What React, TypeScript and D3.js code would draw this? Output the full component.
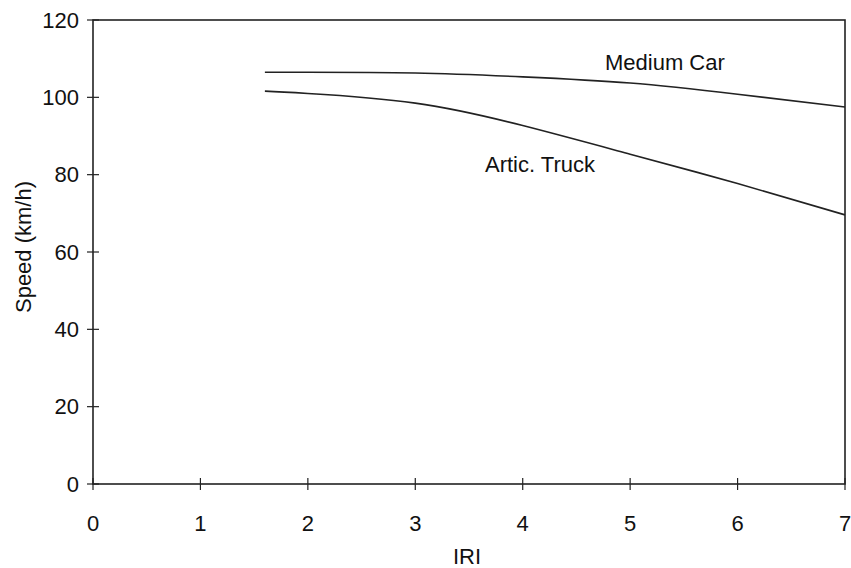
import React from "react";
import * as d3 from "d3";

const iri = [1.6, 2, 3, 4, 5, 6, 7];
const mediumCar = [106.5, 106.5, 106.3, 105.3, 103.7, 100.8, 97.5];
const articTruck = [101.6, 101.0, 98.5, 92.7, 85.3, 77.7, 69.6];
const xTicks = [0, 1, 2, 3, 4, 5, 6, 7];
const yTicks = [0, 20, 40, 60, 80, 100, 120];

const W = 851, H = 568;
const left = 93, right = 845, top = 20, bottom = 484;

export default function App() {
  const x = d3.scaleLinear().domain([0, 7]).range([left, right]);
  const y = d3.scaleLinear().domain([0, 120]).range([bottom, top]);
  const line = d3.line<number>().x((_, i) => x(iri[i])).y((d) => y(d)).curve(d3.curveNatural);
  const font = "Liberation Sans, Arial, sans-serif";
  const fs = 22;
  return (
    <svg width={W} height={H} style={{ position: "absolute", left: 0, top: 0, background: "#fff" }} fontFamily={font}>
      <rect x={left} y={top} width={right - left} height={bottom - top} fill="none" stroke="#222" strokeWidth={1.6} />
      {yTicks.map((t) => (
        <g key={"y" + t}>
          <line x1={left - 6} x2={left + 6} y1={y(t)} y2={y(t)} stroke="#222" strokeWidth={1.2} />
          <text x={79} y={y(t)} dy="0.35em" textAnchor="end" fontSize={fs} fill="#111">{t}</text>
        </g>
      ))}
      {xTicks.map((t) => (
        <g key={"x" + t}>
          <line x1={x(t)} x2={x(t)} y1={bottom - 6} y2={bottom + 6} stroke="#222" strokeWidth={1.2} />
          <text x={x(t)} y={523} dy="0.35em" textAnchor="middle" fontSize={fs} fill="#111">{t}</text>
        </g>
      ))}
      <path d={line(mediumCar) || ""} fill="none" stroke="#222" strokeWidth={1.6} />
      <path d={line(articTruck) || ""} fill="none" stroke="#222" strokeWidth={1.6} />
      <text x={605} y={70} fontSize={fs} fill="#111">Medium Car</text>
      <text x={485} y={172} fontSize={fs} fill="#111">Artic. Truck</text>
      <text x={467} y={556} dy="0.35em" textAnchor="middle" fontSize={fs} fill="#111">IRI</text>
      <text transform={`translate(23,247) rotate(-90)`} dy="0.35em" textAnchor="middle" fontSize={fs} fill="#111">Speed (km/h)</text>
    </svg>
  );
}
